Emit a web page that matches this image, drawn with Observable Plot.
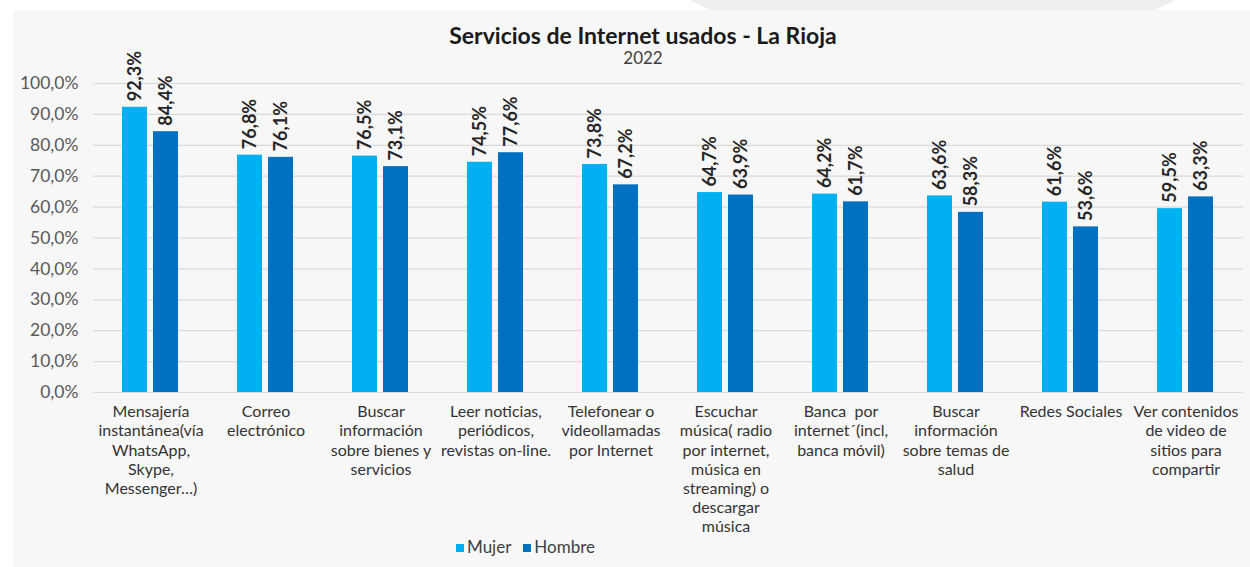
<!DOCTYPE html>
<html>
<head>
<meta charset="utf-8">
<script src="https://cdn.jsdelivr.net/npm/d3@7"></script>
<script src="https://cdn.jsdelivr.net/npm/@observablehq/plot@0.6"></script>
<style>
  html, body { margin: 0; padding: 0; background: #ffffff; }
  body { width: 1250px; height: 567px; position: relative; overflow: hidden; font-family: Lato, "Open Sans", sans-serif; }
  #deco { position: absolute; left: 690px; top: 0; width: 485px; height: 10px; background: #eeeeee; clip-path: polygon(0 0, 100% 0, 96% 100%, 4% 100%); }
  #panel { position: absolute; left: 13px; top: 10px; width: 1237px; height: 557px; background: #f7f7f7; }
  #title { position: absolute; left: 393px; width: 500px; top: 24px; text-align: center; font-size: 23px; font-weight: bold; color: #1a1a1a; line-height: 23px; }
  #subtitle { position: absolute; left: 443px; width: 400px; top: 50px; text-align: center; font-size: 17px; color: #404040; line-height: 16px; }
  #chart { position: absolute; left: 0; top: 0; }
  #chart svg text { white-space: pre; }
  #legend { position: absolute; left: 456px; top: 537px; font-size: 17px; color: #404040; display: flex; gap: 12px; align-items: center; line-height: 20px; }
  #legend span.sw { display: inline-block; width: 8px; height: 8px; margin-right: 3px; vertical-align: middle; position: relative; top: -1px; }
</style>
</head>
<body>
<div id="deco"></div>
<div id="panel"></div>
<div id="chart"></div>
<div id="title">Servicios de Internet usados - La Rioja</div>
<div id="subtitle">2022</div>
<div id="legend"></div>
<script>
const categories = [
  "Mensajería\ninstantánea(vía\nWhatsApp,\nSkype,\nMessenger…)",
  "Correo\nelectrónico",
  "Buscar\ninformación\nsobre bienes y\nservicios",
  "Leer noticias,\nperiódicos,\nrevistas on-line.",
  "Telefonear o\nvideollamadas\npor Internet",
  "Escuchar\nmúsica( radio\npor internet,\nmúsica en\nstreaming) o\ndescargar\nmúsica",
  "Banca  por\ninternet´(incl,\nbanca móvil)",
  "Buscar\ninformación\nsobre temas de\nsalud",
  "Redes Sociales",
  "Ver contenidos\nde video de\nsitios para\ncompartir"
];
const series = ["Mujer", "Hombre"];
const mujer  = [92.3, 76.8, 76.5, 74.5, 73.8, 64.7, 64.2, 63.6, 61.6, 59.5];
const hombre = [84.4, 76.1, 73.1, 77.6, 67.2, 63.9, 61.7, 58.3, 53.6, 63.3];
const colors = ["#00b0f0", "#0070c0"];
const yTicks = [0, 10, 20, 30, 40, 50, 60, 70, 80, 90, 100];

const data = categories.flatMap((c, i) => [
  {cat: c, sex: series[0], v: mujer[i]},
  {cat: c, sex: series[1], v: hombre[i]}
]);
const pct = d => d.toFixed(1).replace(".", ",") + "%";

const chart = Plot.plot({
  width: 1250,
  height: 550,
  marginLeft: 90,
  marginRight: 5,
  marginTop: 83,
  marginBottom: 158,
  style: {background: "transparent", fontFamily: "Lato, 'Open Sans', sans-serif", fontSize: "16px"},
  fx: {domain: categories, padding: 0, label: null},
  x: {domain: series, paddingInner: 0.19, paddingOuter: 0.9, axis: null},
  y: {domain: [0, 100], label: null},
  color: {domain: series, range: colors},
  marks: [
    Plot.gridY({ticks: yTicks, stroke: "#d9d9d9", strokeOpacity: 1, strokeWidth: 1.2}),
    Plot.axisY({ticks: yTicks, tickSize: 0, tickPadding: 15, tickFormat: pct, label: null, fill: "#595959", fontSize: 17.5}),
    Plot.axisFx({anchor: "bottom", tickSize: 0, tickPadding: 11, lineHeight: 1.2, fontSize: 16, fill: "#333333", label: null}),
    Plot.barY(data, {fx: "cat", x: "sex", y: "v", fill: "sex"}),
    Plot.text(data, {fx: "cat", x: "sex", y: "v", text: d => pct(d.v), rotate: -90, textAnchor: "start", dy: -6, fontWeight: "bold", fontSize: 18, fill: "#262626"})
  ]
});
document.getElementById("chart").appendChild(chart);

const legend = document.getElementById("legend");
series.forEach((s, i) => {
  const item = document.createElement("div");
  const sw = document.createElement("span");
  sw.className = "sw";
  sw.style.background = colors[i];
  item.appendChild(sw);
  item.appendChild(document.createTextNode(s));
  legend.appendChild(item);
});
</script>
</body>
</html>
